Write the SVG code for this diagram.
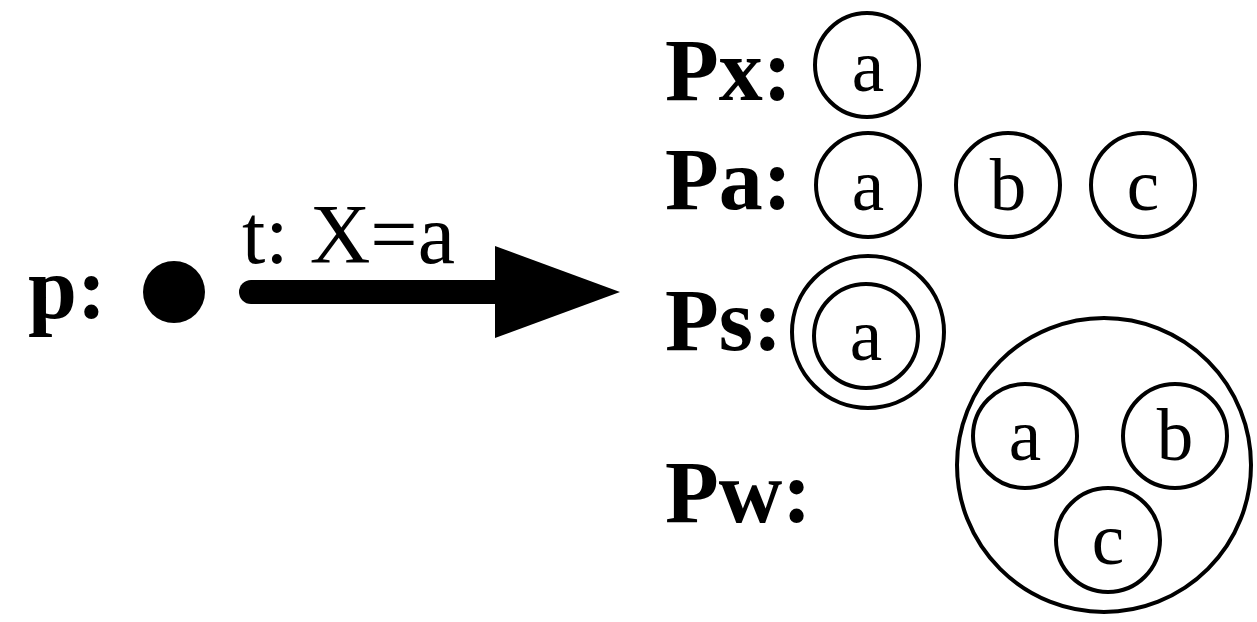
<svg xmlns="http://www.w3.org/2000/svg" width="1257" height="622" viewBox="0 0 1257 622">
<style>
.lbl{font-family:"Liberation Serif","Times New Roman",serif;font-weight:bold;font-size:88px;fill:#000}
.tok{font-family:"Liberation Serif","Times New Roman",serif;font-size:73px;fill:#000;text-anchor:middle}
.ring{fill:none;stroke:#000;stroke-width:4}
.arrlbl{font-family:"Liberation Serif","Times New Roman",serif;font-size:84px;fill:#000}
</style>
<rect width="1257" height="622" fill="#fff"/>
<g id="p">
<text class="lbl" x="28" y="318" font-size="90">p:</text>
<circle cx="174" cy="292" r="31" fill="#000"/>
</g>
<g id="connectors">
<line x1="251" y1="292" x2="500" y2="292" stroke="#000" stroke-width="24" stroke-linecap="round"/>
<polygon points="495,246 620,292 495,338" fill="#000"/>
<text class="arrlbl" x="242" y="263">t: X=a</text>
</g>
<g id="Px">
<text class="lbl" x="665" y="100">Px:</text>
<circle class="ring" cx="867" cy="65" r="52"/>
<text class="tok" x="868" y="91">a</text>
</g>
<g id="Pa">
<text class="lbl" x="665" y="209">Pa:</text>
<circle class="ring" cx="868" cy="185" r="52"/>
<text class="tok" x="868" y="210">a</text>
<circle class="ring" cx="1008" cy="185" r="52"/>
<text class="tok" x="1008" y="210">b</text>
<circle class="ring" cx="1143" cy="185" r="52"/>
<text class="tok" x="1143" y="210">c</text>
</g>
<g id="Ps">
<text class="lbl" x="665" y="350">Ps:</text>
<circle class="ring" cx="868" cy="332" r="76"/>
<circle class="ring" cx="866" cy="336" r="52"/>
<text class="tok" x="866" y="360">a</text>
</g>
<g id="Pw">
<text class="lbl" x="665" y="522">Pw:</text>
<circle class="ring" cx="1104" cy="465" r="147"/>
<circle class="ring" cx="1025" cy="436" r="52"/>
<text class="tok" x="1025" y="460">a</text>
<circle class="ring" cx="1175" cy="436" r="52"/>
<text class="tok" x="1175" y="460">b</text>
<circle class="ring" cx="1108" cy="540" r="52"/>
<text class="tok" x="1108" y="564">c</text>
</g>
</svg>
